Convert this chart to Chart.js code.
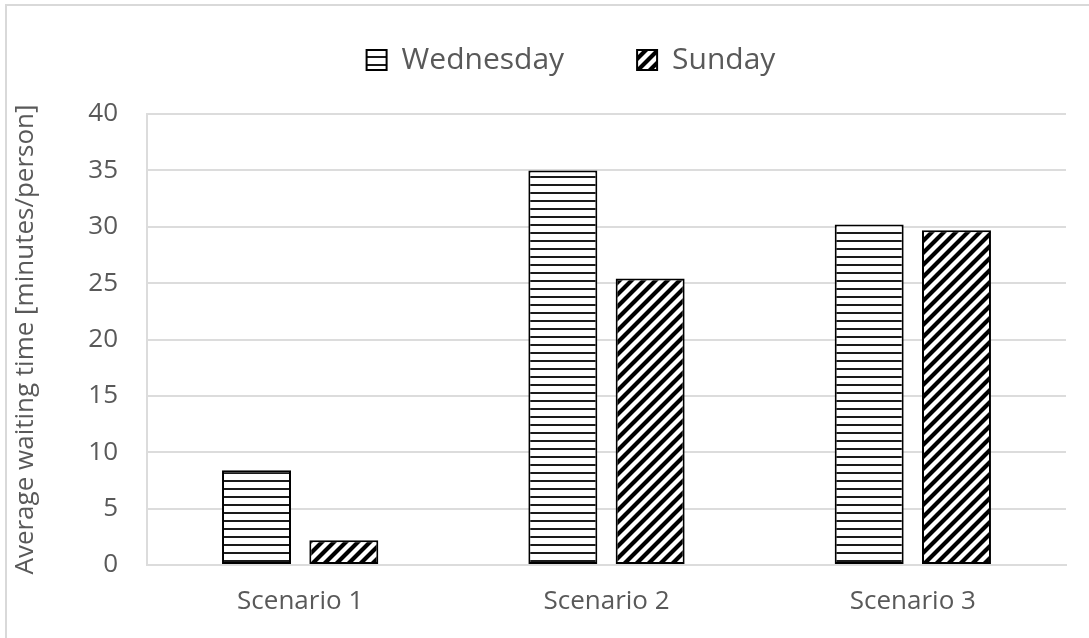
<!DOCTYPE html>
<html><head><meta charset="utf-8">
<script src="https://cdn.jsdelivr.net/npm/chart.js@4.4.1/dist/chart.umd.min.js"></script>
<style>
html,body{margin:0;padding:0;background:#fff;}
#wrap{position:relative;width:1089px;height:638px;overflow:hidden;}
#frame{position:absolute;left:5px;top:4px;width:1200px;height:700px;border-left:2px solid #d9d9d9;border-top:2px solid #d9d9d9;pointer-events:none;}
canvas{position:absolute;left:0;top:0;}
</style></head><body>
<div id="wrap"><canvas id="c" width="1089" height="638"></canvas><div id="frame"></div></div>
<script>
// ---- data ----
const categories = ['Scenario 1', 'Scenario 2', 'Scenario 3'];
const seriesNames = ['Wednesday', 'Sunday'];
const wednesday = [8.4, 35.0, 30.2];
const sunday = [2.2, 25.4, 29.7];
const yTickValues = [0, 5, 10, 15, 20, 25, 30, 35, 40];
const yTitle = 'Average waiting time [minutes/person]';

// ---- patterns ----
function hPattern() {
  const c = document.createElement('canvas');
  c.width = 8; c.height = 8;
  const g = c.getContext('2d');
  g.fillStyle = '#fff'; g.fillRect(0, 0, 8, 8);
  g.fillStyle = '#1a1a1a'; g.fillRect(0, 0, 8, 2);
  return g.createPattern(c, 'repeat');
}
function dPattern() {
  const s = 12;
  const c = document.createElement('canvas');
  c.width = s; c.height = s;
  const g = c.getContext('2d');
  g.fillStyle = '#fff'; g.fillRect(0, 0, s, s);
  g.strokeStyle = '#000'; g.lineWidth = 4.2; g.lineCap = 'square';
  g.beginPath();
  g.moveTo(-2, s + 2); g.lineTo(s + 2, -2);
  g.moveTo(-2, 2); g.lineTo(2, -2);
  g.moveTo(s - 2, s + 2); g.lineTo(s + 2, s - 2);
  g.stroke();
  return g.createPattern(c, 'repeat');
}

const TXT = '#595959';
const GRID = '#dcdcdc';
const LEGEND_DX = 66, LEGEND_DY = -28;

const layoutPlugin = {
  id: 'layoutPlugin',
  beforeInit(chart) {
    const lg = chart.legend;
    if (!lg) return;
    const f = lg.fit;
    lg.fit = function () { f.call(this); this.height = 114; };
    const d = lg.draw;
    lg.draw = function (a) {
      const l = this.left, t = this.top;
      this.left = l + LEGEND_DX; this.top = t + LEGEND_DY;
      d.call(this, a);
      this.left = l; this.top = t;
    };
  }
};

new Chart(document.getElementById('c'), {
  type: 'bar',
  data: {
    labels: categories,
    datasets: [
      { label: seriesNames[0], data: wednesday, backgroundColor: hPattern(), borderColor: '#000', borderWidth: 2, borderSkipped: false },
      { label: seriesNames[1], data: sunday, backgroundColor: dPattern(), borderColor: '#000', borderWidth: 2, borderSkipped: false }
    ]
  },
  options: {
    responsive: false,
    animation: false,
    devicePixelRatio: 1,
    events: [],
    layout: { padding: { left: 10, right: 23, top: 0, bottom: 0 } },
    datasets: { bar: { categoryPercentage: 0.57, barPercentage: 0.79 } },
    plugins: {
      tooltip: { enabled: false },
      legend: {
        position: 'top',
        labels: {
          boxWidth: 20, boxHeight: 20, padding: 73, color: TXT,
          font: { family: 'Open Sans', size: 30 }
        }
      }
    },
    scales: {
      x: {
        grid: { display: false, drawTicks: false },
        border: { display: true, color: GRID, width: 2 },
        ticks: { color: TXT, font: { family: 'Open Sans', size: 26 }, padding: 21 },
        afterFit(s) { s.height = 73; }
      },
      y: {
        min: 0, max: 40,
        afterBuildTicks(s) { s.ticks = yTickValues.map(v => ({ value: v })); },
        grid: { color: GRID, lineWidth: 2, drawTicks: false },
        border: { display: true, color: GRID, width: 2 },
        ticks: { color: TXT, font: { family: 'Open Sans', size: 26 }, padding: 29 },
        title: { display: true, text: yTitle, color: TXT, font: { family: 'Open Sans', size: 26 }, padding: { top: 0, bottom: 0 } },
        afterFit(s) { s.width = 137; }
      }
    }
  },
  plugins: [layoutPlugin]
});
</script>
</body></html>
